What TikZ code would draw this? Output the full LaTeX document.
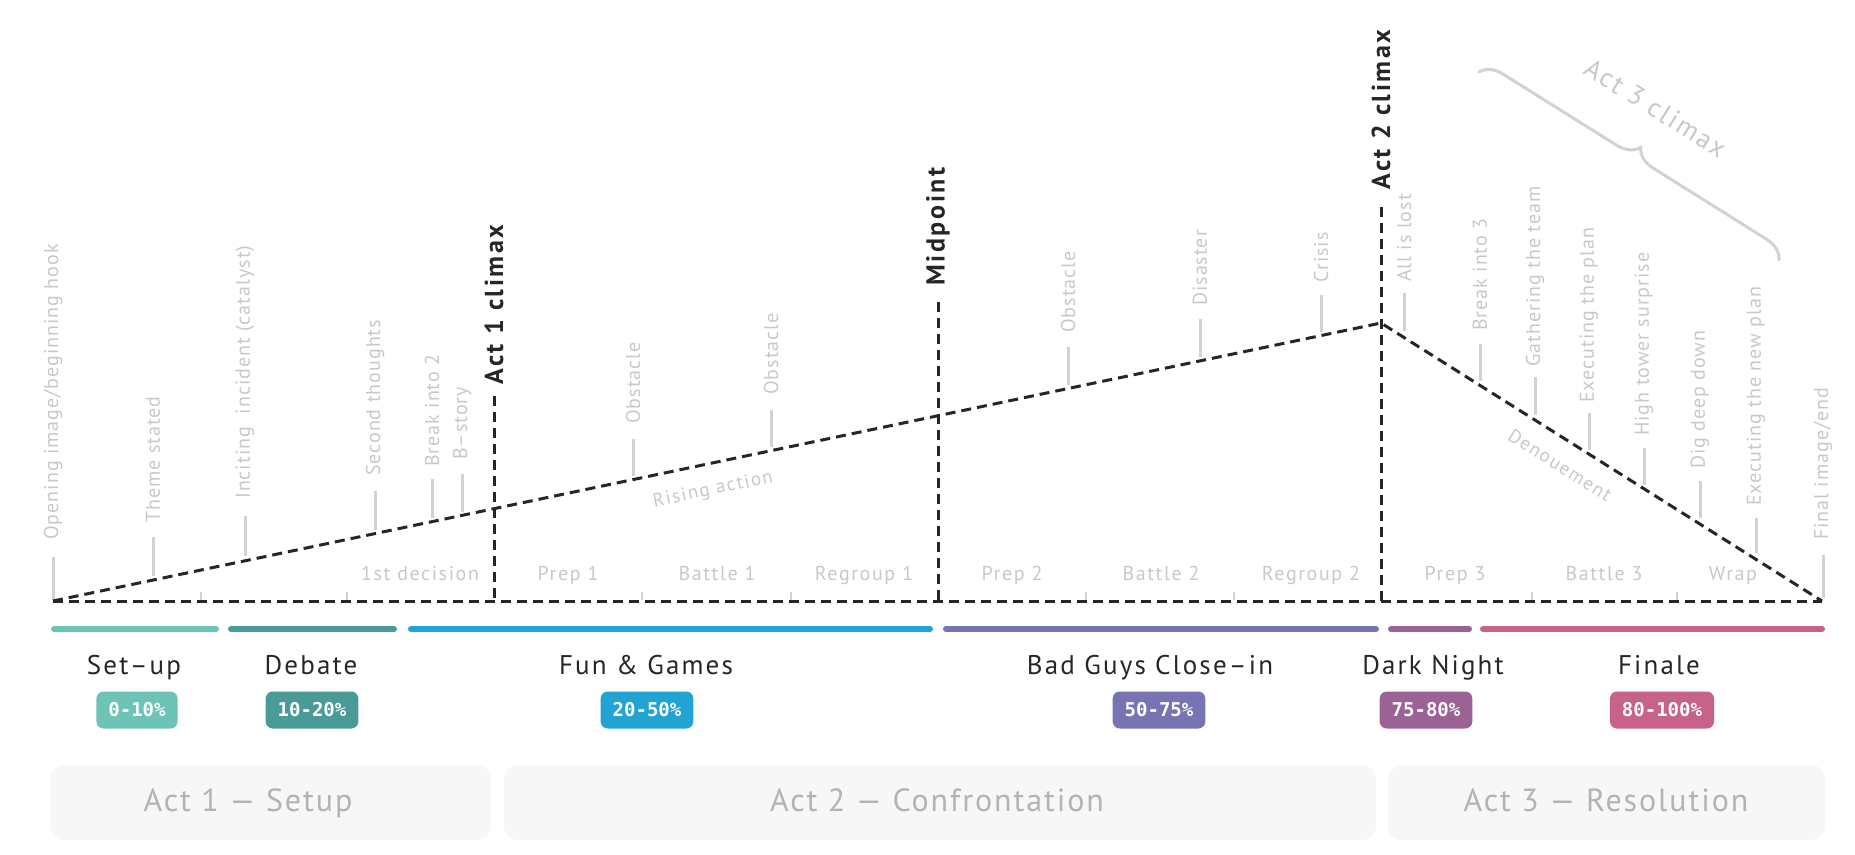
\documentclass[tikz,border=0pt]{standalone}
\usepackage{fontspec}
\setmainfont{PT Sans}
\newfontfamily\badgefont{DejaVu Sans Mono}
\newfontfamily\beatfont[LetterSpace=5]{PT Sans}
\newfontfamily\segfont[LetterSpace=8]{PT Sans}
\newfontfamily\keyfont[LetterSpace=10]{PT Sans}
\newfontfamily\titlefont[LetterSpace=8]{PT Sans}
\newfontfamily\actfont[LetterSpace=6]{PT Sans}
\usetikzlibrary{decorations.pathreplacing}

\definecolor{ink}{HTML}{262626}
\definecolor{soft}{HTML}{D2D2D2}
\definecolor{softtext}{HTML}{C8C8C8}
\definecolor{boxfill}{HTML}{F7F7F7}
\definecolor{boxtext}{HTML}{B3B3B3}
\definecolor{cSetup}{HTML}{6CC3B6}
\definecolor{cDebate}{HTML}{4A9A98}
\definecolor{cFun}{HTML}{21A3D4}
\definecolor{cBad}{HTML}{7674B3}
\definecolor{cDark}{HTML}{9B6295}
\definecolor{cFinale}{HTML}{C7628B}

\tikzset{
  plotline/.style={draw=ink, line width=3pt, dash pattern=on 10pt off 6pt},
  stemline/.style={draw=soft, line width=3pt},
  beatlabel/.style={rotate=90, anchor=west, inner sep=0pt, text=softtext, font=\beatfont\fontsize{20}{20}\selectfont},
  keylabel/.style={rotate=90, anchor=west, inner sep=0pt, text=ink, font=\keyfont\bfseries\fontsize{26}{26}\selectfont},
  seglabel/.style={anchor=base, inner sep=0pt, text=softtext, font=\segfont\fontsize{20}{20}\selectfont},
  tickline/.style={draw=soft, line width=2.5pt},
  barline/.style={line width=6pt, line cap=round},
  phasetitle/.style={anchor=base, inner sep=0pt, text=ink, font=\titlefont\fontsize{27}{27}\selectfont},
  badge/.style={rounded corners=7pt, text=white, inner xsep=12pt, inner ysep=0pt, minimum height=37pt, font=\badgefont\bfseries\fontsize{19}{19}\selectfont},
  actbox/.style={fill=boxfill, rounded corners=14pt},
  acttext/.style={anchor=base, inner sep=0pt, text=boxtext, font=\actfont\fontsize{32}{32}\selectfont},
  slopetext/.style={inner sep=0pt, text=softtext, font=\segfont\fontsize{19}{19}\selectfont},
}

\newcommand\beatmark[6]{%
  \coordinate (#1-foot) at (#2,#3);
  \coordinate (#1-head) at (#2,#4);
  \draw[stemline] (#1-foot) -- (#1-head);
  \node[beatlabel] (#1) at (#2,#5) {#6};
}

\begin{document}
\begin{tikzpicture}[x=1pt,y=-1pt]
\useasboundingbox (0,0) rectangle (1855,854);

% key points
\coordinate (start) at (53,601);
\coordinate (finish) at (1822,601);
\coordinate (peak) at (1381,323);
\coordinate (a1top) at (494,396);
\coordinate (a1base) at (494,601);
\coordinate (midtop) at (938,302);
\coordinate (midbase) at (938,601);
\coordinate (a2top) at (1381,207);
\coordinate (a2base) at (1381,601);

% baseline ticks
\foreach \tx [count=\i] in {201,347,642,791,1086,1234,1532,1677}{
  \coordinate (tk\i a) at (\tx,592);
  \coordinate (tk\i b) at (\tx,600);
  \draw[tickline] (tk\i a) -- (tk\i b);
}

% beats
\beatmark{opening}{53}{600}{557}{540}{Opening image/beginning hook}
\beatmark{theme}{153}{576}{537}{523}{Theme stated}
\beatmark{inciting}{245}{556}{516}{499}{Inciting\ \ incident (catalyst)}
\beatmark{second}{375}{530}{491}{476}{Second thoughts}
\beatmark{break2}{432}{518}{479}{467}{Break into 2}
\beatmark{bstory}{462}{512}{474}{460}{B–story}
\beatmark{obst1}{633}{476}{439}{424}{Obstacle}
\beatmark{obst2}{771}{447}{410}{395}{Obstacle}
\beatmark{obst3}{1068}{385}{347}{333}{Obstacle}
\beatmark{disaster}{1200}{357}{319}{306}{Disaster}
\beatmark{crisis}{1321}{332}{295}{283}{Crisis}
\beatmark{lost}{1404}{331}{293}{282}{All is lost}
\beatmark{break3}{1480}{381}{344}{331}{Break into 3}
\beatmark{gather}{1535}{415}{377}{367}{Gathering the team}
\beatmark{execplan}{1589}{450}{413}{403}{Executing the plan}
\beatmark{tower}{1644}{485}{448}{436}{High tower surprise}
\beatmark{digdeep}{1700}{518}{481}{469}{Dig deep down}
\beatmark{newplan}{1756}{553}{518}{506}{Executing the new plan}
\beatmark{final}{1823}{598}{555}{540}{Final image/end}

% plot lines
\draw[plotline] (start) -- (finish);
\draw[plotline] (start) -- (peak) -- (finish);
\draw[plotline] (a1top) -- (a1base);
\draw[plotline] (midtop) -- (midbase);
\draw[plotline] (a2top) -- (a2base);

% key labels
\node[keylabel] (act1) at (494,385) {Act 1 climax};
\node[keylabel] (midpoint) at (938,286) {Midpoint};
\node[keylabel] (act2) at (1381,190) {Act 2 climax};

% slope labels
\node[slopetext, rotate=11.8] (rising) at (713,490) {Rising action};
\node[slopetext, rotate=-32.2] (denoue) at (1560,465) {Denouement};

% act 3 climax brace
\coordinate (brA) at (1479,72);
\coordinate (brB) at (1779,260);
\draw[draw=soft, line width=3pt, line cap=round, decorate, decoration={brace, amplitude=22pt}] (brA) -- (brB);
\node[slopetext, rotate=-32, font=\segfont\fontsize{27}{27}\selectfont] (act3c) at (1656,108) {Act 3 climax};

% segment labels
\node[seglabel] (seg1) at (420,580) {1st decision};
\node[seglabel] (seg2) at (568,580) {Prep 1};
\node[seglabel] (seg3) at (717,580) {Battle 1};
\node[seglabel] (seg4) at (864,580) {Regroup 1};
\node[seglabel] (seg5) at (1012,580) {Prep 2};
\node[seglabel] (seg6) at (1161,580) {Battle 2};
\node[seglabel] (seg7) at (1311,580) {Regroup 2};
\node[seglabel] (seg8) at (1455,580) {Prep 3};
\node[seglabel] (seg9) at (1604,580) {Battle 3};
\node[seglabel] (seg10) at (1733,580) {Wrap};

% coloured bars
\draw[barline, draw=cSetup] (54,629) -- (216,629);
\draw[barline, draw=cDebate] (231,629) -- (394,629);
\draw[barline, draw=cFun] (411,629) -- (930,629);
\draw[barline, draw=cBad] (946,629) -- (1376,629);
\draw[barline, draw=cDark] (1391,629) -- (1469,629);
\draw[barline, draw=cFinale] (1483,629) -- (1822,629);

% phase titles
\node[phasetitle] (t1) at (134,674) {Set–up};
\node[phasetitle] (t2) at (311,674) {Debate};
\node[phasetitle] (t3) at (646,674) {Fun \& Games};
\node[phasetitle] (t4) at (1150,674) {Bad Guys Close–in};
\node[phasetitle] (t5) at (1433,674) {Dark Night};
\node[phasetitle] (t6) at (1659,674) {Finale};

% badges
\node[badge, fill=cSetup] (b1) at (137,710) {0-10\%};
\node[badge, fill=cDebate] (b2) at (312,710) {10-20\%};
\node[badge, fill=cFun] (b3) at (647,710) {20-50\%};
\node[badge, fill=cBad] (b4) at (1159,710) {50-75\%};
\node[badge, fill=cDark] (b5) at (1426,710) {75-80\%};
\node[badge, fill=cFinale] (b6) at (1662,710) {80-100\%};

% act boxes
\path[actbox] (50,765) rectangle (491,840);
\path[actbox] (504,765) rectangle (1376,840);
\path[actbox] (1388,765) rectangle (1825,840);
\node[acttext] (act1box) at (248,811) {Act 1 — Setup};
\node[acttext] (act2box) at (937,811) {Act 2 — Confrontation};
\node[acttext] (act3box) at (1606,811) {Act 3 — Resolution};
\end{tikzpicture}
\end{document}
